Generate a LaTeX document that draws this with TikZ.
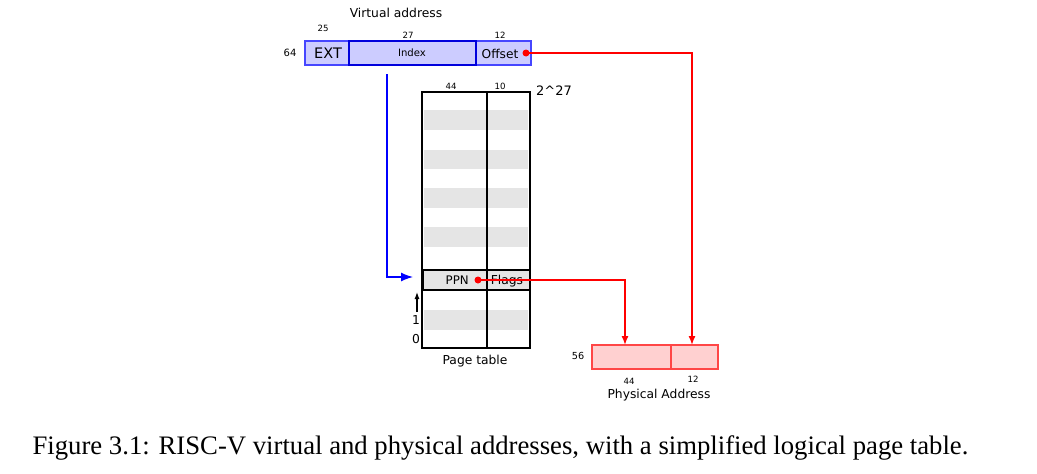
\documentclass[tikz,border=0pt]{standalone}
\usepackage{fontspec}
\setmainfont{DejaVu Sans}
\newfontfamily\capfont{Liberation Serif}
\usetikzlibrary{arrows.meta}
\definecolor{vafill}{RGB}{204,204,255}
\definecolor{vaedge}{RGB}{70,70,255}
\definecolor{vadark}{RGB}{0,0,220}
\definecolor{pafill}{RGB}{255,208,208}
\definecolor{paedge}{RGB}{255,70,70}
\definecolor{stripe}{RGB}{229,229,229}
\definecolor{arrred}{RGB}{255,0,0}
\tikzset{
  fs/.style={font=\fontsize{#1}{#1}\selectfont},
  lbl/.style={inner sep=0pt, fs=12.3},
  tiny/.style={inner sep=0pt, fs=8.6},
  vacell/.style={draw=vaedge, fill=vafill, line width=1.3pt},
  pacell/.style={draw=paedge, fill=pafill, line width=1.4pt},
  redarrow/.style={color=arrred, line width=1.4pt, -{Latex[length=9pt,width=7pt]}},
  bluearrow/.style={color=blue, line width=1.3pt, -{Latex[length=12pt,width=9pt]}},
  dot/.style={circle, fill=arrred, inner sep=0pt, minimum size=7pt},
}
\begin{document}
\begin{tikzpicture}[x=1pt,y=-1pt]
\useasboundingbox (0,0) rectangle (1037,474);
% virtual address
\node[lbl] (vatitle) at (396,13) {Virtual address};
\node[tiny] (n25) at (323,28) {25};
\node[tiny] (n27) at (408,35) {27};
\node[tiny] (n12a) at (500,35) {12};
\node[inner sep=0pt, fs=10] (n64) at (290,53) {64};
\draw[vacell] (305,41) rectangle (349,65);
\draw[vacell] (476,41) rectangle (531,65);
\draw[vacell, draw=vadark, line width=2pt] (349,41) rectangle (476,65);
\node[inner sep=0pt, fs=14.5] (ext) at (328,53) {EXT};
\node[inner sep=0pt, fs=10.1] (index) at (412,53) {Index};
\node[inner sep=0pt, fs=12.2] (offset) at (500,53.5) {Offset};
\node[dot] (vadot) at (526,53) {};
% page table
\foreach \ya/\yb in {110/130,150/169,188/208,227/247,310/330}
  \fill[stripe] (424,\ya) rectangle (528,\yb);
\draw[line width=1.5pt] (422,92) rectangle (530,348);
\draw[line width=1.5pt] (487,92) -- (487,348);
\draw[line width=1.5pt, fill=stripe] (423,270) rectangle (530,290);
\draw[line width=1.5pt] (487,270) -- (487,290);
\node[anchor=east, inner sep=0pt, fs=11.8] (ppn) at (469,280.5) {PPN};
\node[inner sep=0pt, fs=12.3] (flags) at (507,281) {Flags};
\node[dot] (ppndot) at (478,280) {};
\node[tiny] (n44a) at (451,86) {44};
\node[tiny] (n10) at (500,86) {10};
\node[inner sep=0pt, fs=13] (n227) at (554,91) {2\^{}27};
\node[inner sep=0pt, fs=12.3] (one) at (416,320) {1};
\node[inner sep=0pt, fs=12.3] (zero) at (416,339) {0};
\coordinate (upa) at (417,312);
\coordinate (upb) at (417,292);
\draw[line width=1.2pt, -{Latex[length=7pt,width=5pt]}] (upa) -- (upb);
\node[lbl] (ptlabel) at (475,361) {Page table};
% physical address
\draw[pacell] (592,345) rectangle (671,369);
\draw[pacell] (671,345) rectangle (718,369);
\coordinate (pa44) at (625,345);
\coordinate (pa12) at (692,345);
\node[inner sep=0pt, fs=9.7] (n56) at (578,356) {56};
\node[tiny] (n44b) at (629,381) {44};
\node[tiny] (n12b) at (693,379) {12};
\node[lbl] (palabel) at (659,395) {Physical Address};
% connectors
\coordinate (bluestart) at (387,74);
\coordinate (blueend) at (413,277);
\coordinate (ppnbend) at (625,280);
\draw[bluearrow] (bluestart) |- (blueend);
\draw[redarrow] (vadot.center) -| (pa12);
\draw[redarrow] (ppndot.center) -- (ppnbend) -- (pa44);
% caption
\node[inner sep=0pt, font=\capfont\fontsize{26.7}{26.7}\selectfont] (caption) at (500.5,448) {Figure 3.1: RISC-V virtual and physical addresses, with a simplified logical page table.};
\end{tikzpicture}
\end{document}
